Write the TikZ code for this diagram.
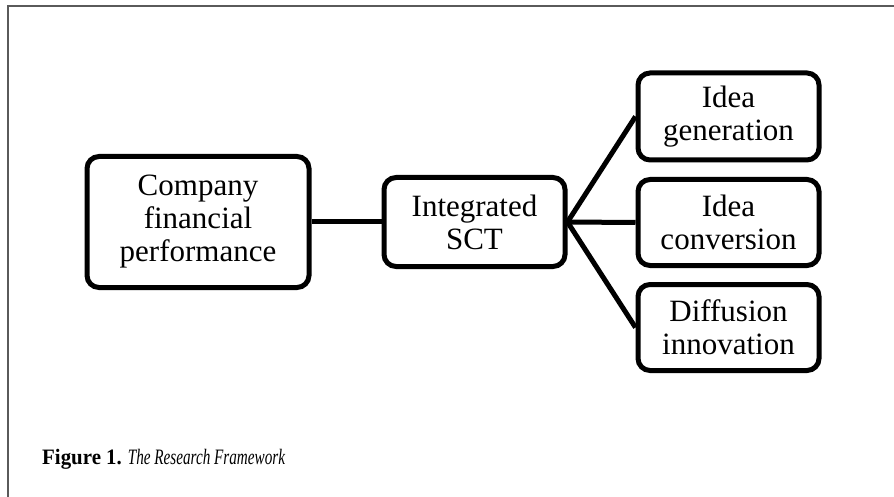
\documentclass[tikz,border=0pt]{standalone}
\usepackage{fontspec}
\setmainfont{Liberation Serif}
\begin{document}
\begin{tikzpicture}[x=1pt,y=-1pt,
  box/.style={draw=black, line width=5pt, rounded corners=12pt, rectangle,
    inner sep=0pt, align=center, font=\fontsize{31}{33}\selectfont},
  link/.style={line width=5pt, black},
  frameline/.style={line width=1.5pt, draw={rgb,255:red,90;green,90;blue,90}}]
\useasboundingbox (0,0) rectangle (894,497);
\coordinate (fb) at (8,497);
\coordinate (fc) at (8,6);
\coordinate (fr) at (894,6);
\draw[frameline] (fb) -- (fc) -- (fr);
\node[box, minimum width=222pt, minimum height=131pt] (cfp) at (198,222) {Company\\financial\\performance};
\node[box, minimum width=181pt, minimum height=89pt] (sct) at (474.5,222) {Integrated\\SCT};
\node[box, minimum width=181pt, minimum height=87pt] (ig) at (728.5,116.5) {Idea\\generation};
\node[box, minimum width=181pt, minimum height=86pt] (ic) at (728.5,222.5) {Idea\\conversion};
\node[box, minimum width=181pt, minimum height=86pt] (di) at (728.5,327.5) {Diffusion\\innovation};
\draw[link] (cfp.east) -- (sct.west);
\draw[link] (sct.east) -- (ig.west);
\draw[link] (sct.east) -- (ic.west);
\draw[link] (sct.east) -- (di.west);
\node[anchor=base west, inner sep=0pt, font=\fontsize{22}{24}\selectfont] (cap) at (42,464) {\scalebox{0.95}[1]{\textbf{Figure 1.}}\hspace{6pt}\scalebox{0.69}[1]{\textit{The Research Framework}}};
\end{tikzpicture}
\end{document}
